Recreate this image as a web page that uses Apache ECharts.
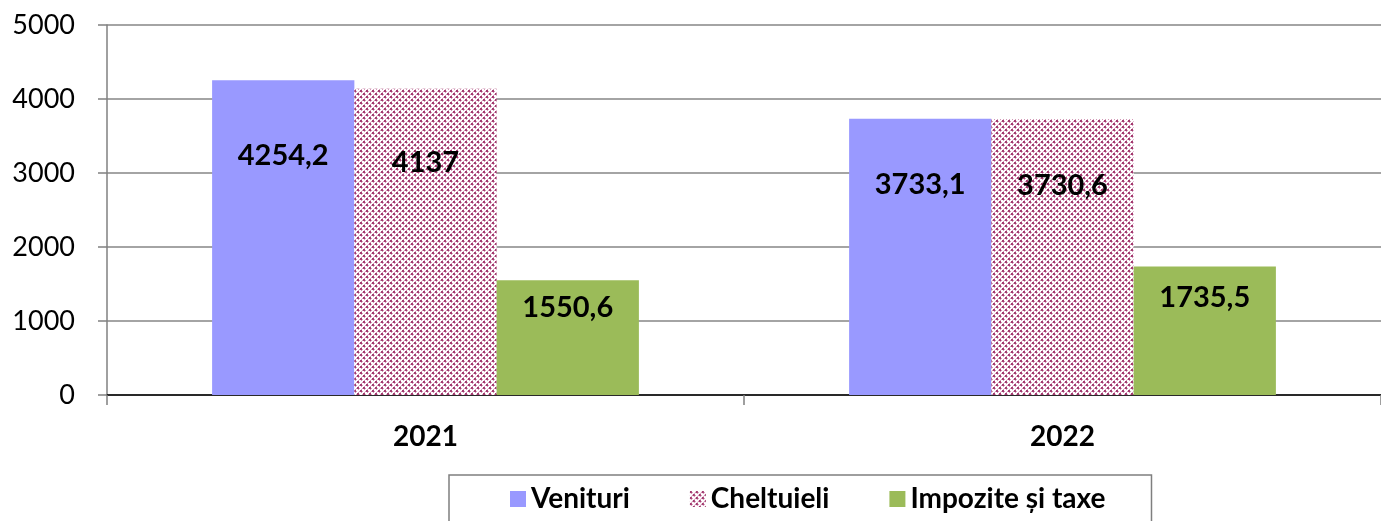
<!DOCTYPE html>
<html>
<head>
<meta charset="utf-8">
<script src="https://cdn.jsdelivr.net/npm/echarts@6/dist/echarts.min.js"></script>
<style>
html,body{margin:0;padding:0;background:#fff;}
#chart{width:1381px;height:521px;}
</style>
</head>
<body>
<div id="chart"></div>
<script>
const categories = ['2021', '2022'];
const seriesNames = ['Venituri', 'Cheltuieli', 'Impozite și taxe'];
const venituri = [4254.2, 3733.1];
const cheltuieli = [4137, 3730.6];
const impozite = [1550.6, 1735.5];
const yTicks = [0, 1000, 2000, 3000, 4000, 5000];

function makePattern() {
  const c = document.createElement('canvas');
  c.width = 6; c.height = 6;
  const ctx = c.getContext('2d');
  ctx.fillStyle = '#ffffff';
  ctx.fillRect(0, 0, 6, 6);
  ctx.fillStyle = '#a33a6f';
  ctx.fillRect(0, 0, 2, 2);
  ctx.fillRect(3, 3, 2, 2);
  ctx.fillStyle = '#d49ab8';
  ctx.fillRect(2, 1, 1, 1);
  ctx.fillRect(1, 2, 1, 1);
  ctx.fillRect(5, 4, 1, 1);
  ctx.fillRect(4, 5, 1, 1);
  ctx.fillRect(2, 4, 1, 1);
  ctx.fillRect(4, 2, 1, 1);
  ctx.fillRect(5, 1, 1, 1);
  ctx.fillRect(1, 5, 1, 1);
  return c;
}
const pattern = { image: makePattern(), repeat: 'repeat' };

const font = 'Lato, "Open Sans", sans-serif';
const fmt = p => String(p.value).replace('.', ',');
const labelCfg = {
  show: true,
  position: ['50%', '24%'],
  align: 'center',
  verticalAlign: 'middle',
  color: '#000',
  fontFamily: font,
  fontWeight: 'bold',
  fontSize: 29,
  formatter: fmt
};

const chart = echarts.init(document.getElementById('chart'));
chart.setOption({
  animation: false,
  backgroundColor: '#fff',
  textStyle: { fontFamily: font },
  grid: { left: 107, right: 0, top: 25, bottom: 126 },
  legend: {
    data: seriesNames,
    icon: 'rect',
    left: 449,
    top: 475,
    padding: [10, 46, 30, 61],
    borderColor: '#7f7f7f',
    borderWidth: 1.5,
    itemGap: 60,
    itemWidth: 16,
    itemHeight: 16,
    itemTextGap: 7,
    textStyle: { fontFamily: font, fontWeight: 'bold', fontSize: 28, color: '#000' }
  },
  xAxis: {
    type: 'category',
    data: categories,
    axisLine: { lineStyle: { color: '#000', width: 1.5 } },
    axisTick: { show: true, interval: 0, length: 10, lineStyle: { color: '#808080', width: 1.5 } },
    axisLabel: { margin: 28, color: '#000', fontFamily: font, fontWeight: 'bold', fontSize: 28 }
  },
  yAxis: {
    type: 'value',
    min: yTicks[0],
    max: yTicks[yTicks.length - 1],
    interval: 1000,
    axisLine: { show: true, lineStyle: { color: '#808080', width: 1.5 } },
    axisTick: { show: true, length: 9, lineStyle: { color: '#808080', width: 1.5 } },
    axisLabel: { margin: 32, color: '#000', fontFamily: font, fontSize: 27, formatter: v => String(v) },
    splitLine: { lineStyle: { color: '#868686', width: 1.5 } }
  },
  series: [
    { name: seriesNames[0], type: 'bar', data: venituri, barGap: '0%', barCategoryGap: '33%',
      itemStyle: { color: '#9999ff' }, label: labelCfg },
    { name: seriesNames[1], type: 'bar', data: cheltuieli,
      itemStyle: { color: pattern }, label: labelCfg },
    { name: seriesNames[2], type: 'bar', data: impozite,
      itemStyle: { color: '#9bbb59' }, label: labelCfg }
  ]
});
</script>
</body>
</html>
